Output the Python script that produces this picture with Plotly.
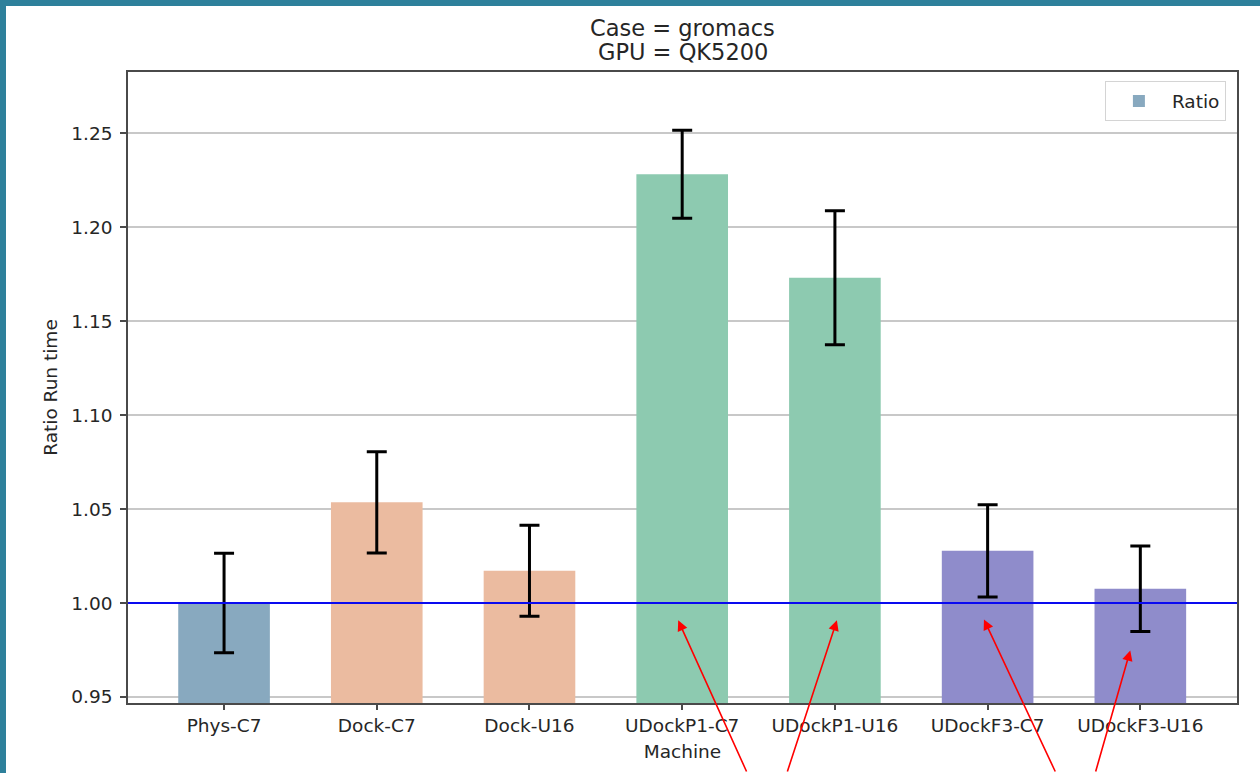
import plotly.graph_objects as go

# ---- data ----
machines = ["Phys-C7", "Dock-C7", "Dock-U16", "UDockP1-C7", "UDockP1-U16", "UDockF3-C7", "UDockF3-U16"]
ratios = [1.000, 1.0536, 1.0172, 1.2283, 1.1732, 1.0278, 1.0076]
errors = [0.0265, 0.0270, 0.0242, 0.0234, 0.0357, 0.0246, 0.0228]
bar_colors = ["#88a9bf", "#ebbba0", "#ebbba0", "#8dcab0", "#8dcab0", "#8f8ccb", "#8f8ccb"]
baseline = 1.0
y_ticks = [0.95, 1.00, 1.05, 1.10, 1.15, 1.20, 1.25]
y_tick_text = ["0.95", "1.00", "1.05", "1.10", "1.15", "1.20", "1.25"]
title_lines = ["Case = gromacs", "GPU = QK5200"]

# red annotation arrows: target (category index, value) and tail offset in px
arrow_x = [2.974, 4.013, 4.976, 5.934]
arrow_y = [0.9908, 0.9908, 0.9913, 0.9748]
arrow_ax = [69, -50, 72, -35]
arrow_ay = [153, 153, 154, 123]

FRAME = 6              # teal frame strip (left and top) drawn by the page background
FRAME_COLOR = "#2e809b"
W, H = 1260 - FRAME, 773 - FRAME
ML, MR, MT, MB = 128 - FRAME, 23, 72 - FRAME, 70
PW, PH = W - ML - MR, H - MT - MB

FONT = "DejaVu Sans"
TXT = "#262626"

fig = go.Figure()
fig.add_trace(go.Bar(
    x=machines, y=ratios, name="Ratio", width=0.6,
    marker=dict(color=bar_colors, line=dict(width=0)),
    error_y=dict(type="data", array=errors, visible=True,
                 color="black", thickness=3, width=10),
    showlegend=True,
))

shapes = [
    # reference line at 1.0
    dict(type="line", xref="paper", yref="y", x0=0, x1=1, y0=baseline, y1=baseline,
         line=dict(color="#0a0af0", width=2), layer="above"),
]

annotations = [
    dict(text=title_lines[0], xref="paper", yref="paper", x=0.5, y=1 + (MT - (28.5 - FRAME)) / PH,
         xanchor="center", yanchor="middle", showarrow=False,
         font=dict(family=FONT, size=22.5, color=TXT)),
    dict(text=title_lines[1], xref="paper", yref="paper", x=0.5, y=1 + (MT - (52.5 - FRAME)) / PH,
         xanchor="center", yanchor="middle", showarrow=False,
         font=dict(family=FONT, size=22.5, color=TXT)),
]
for xa, ya, dx, dy in zip(arrow_x, arrow_y, arrow_ax, arrow_ay):
    annotations.append(dict(
        x=xa, y=ya, xref="x", yref="y", ax=dx, ay=dy, axref="pixel", ayref="pixel",
        text="", showarrow=True, arrowhead=2, arrowsize=1.3, arrowwidth=1.6,
        arrowcolor="#ff0000",
    ))

fig.update_layout(
    width=W, height=H,
    margin=dict(l=ML, r=MR, t=MT, b=MB, autoexpand=False),
    paper_bgcolor="white", plot_bgcolor="white",
    font=dict(family=FONT, size=18.5, color=TXT),
    shapes=shapes, annotations=annotations,
    legend=dict(x=0.990, y=0.985, xanchor="right", yanchor="top",
                bgcolor="white", bordercolor="#d4d4d4", borderwidth=1,
                itemwidth=56,
                font=dict(family=FONT, size=18.5, color=TXT)),
    xaxis=dict(
        type="category", range=[-0.629, 6.633],
        title=dict(text="Machine", font=dict(size=18.5), standoff=10),
        showgrid=False, showline=True, mirror=True, linecolor="#4a4a4a", linewidth=1.5,
        ticks="outside", ticklen=5, tickwidth=1.5, tickcolor="#4a4a4a",
        tickfont=dict(size=18.5), zeroline=False,
    ),
    yaxis=dict(
        range=[0.9468, 1.2827],
        tickvals=y_ticks, ticktext=y_tick_text,
        title=dict(text="Ratio Run time", font=dict(size=18.5), standoff=9),
        showgrid=True, gridcolor="#c8c8c8", gridwidth=1.5,
        showline=True, mirror=True, linecolor="#4a4a4a", linewidth=1.5,
        ticks="outside", ticklen=6, tickwidth=1.5, tickcolor="#4a4a4a",
        ticklabelstandoff=4,
        tickfont=dict(size=18.5), zeroline=False,
    ),
)

fig.write_html(
    "out.html",
    config={"displayModeBar": False},
    post_script=(
        "document.documentElement.style.background='%s';"
        "document.body.style.background='%s';"
        "document.body.style.margin='0';"
        "document.body.style.padding='%dpx 0 0 %dpx';"
        "document.body.style.overflow='hidden';" % (FRAME_COLOR, FRAME_COLOR, FRAME, FRAME)
    ),
)
